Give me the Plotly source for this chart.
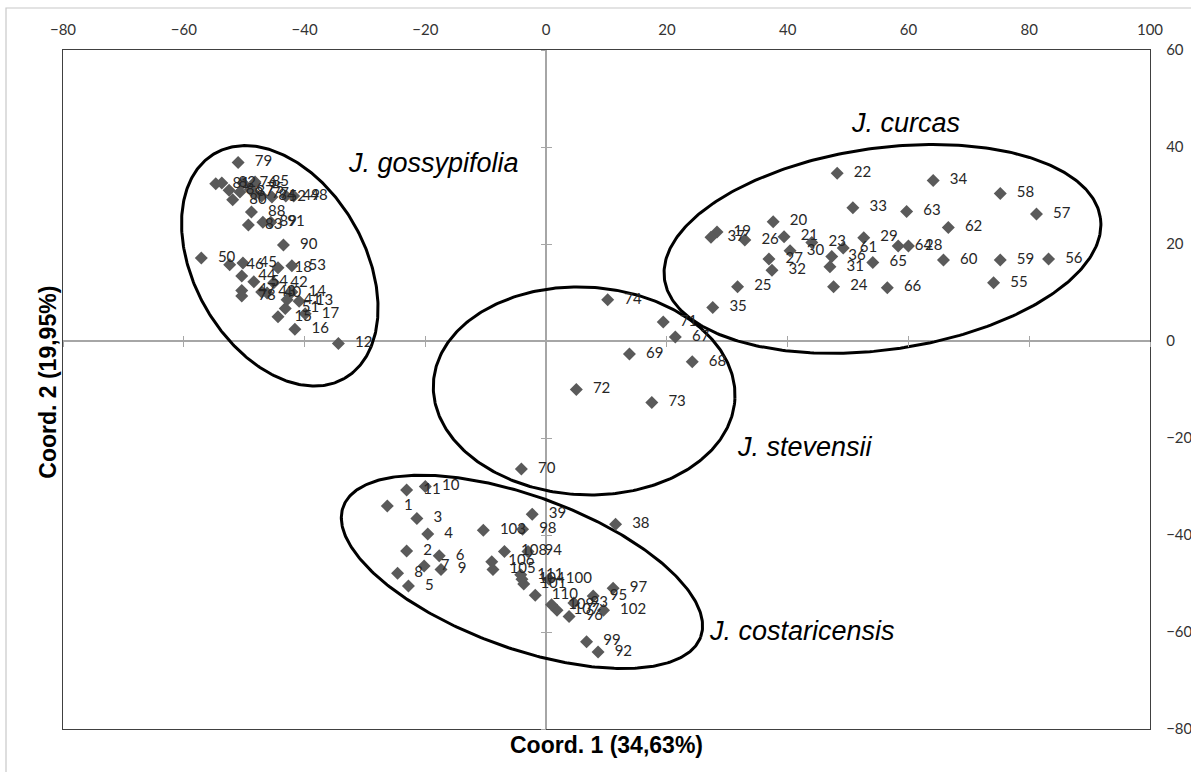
import numpy as np
import plotly.graph_objects as go

# ---------------- data ----------------
gossy_ids = [12, 13, 14, 15, 16, 17, 18, 40, 41, 42, 43, 44, 45, 46, 47, 48, 49, 50, 51, 52, 53, 54,
             75, 76, 77, 78, 79, 80, 81, 82, 83, 84, 85, 86, 87, 88, 89, 90, 91]
gossy_x = [-34.4, -40.9, -42.1, -44.4, -41.6, -39.9, -44.4, -46.2, -42.9, -45.1, -47.1, -50.4, -50.2, -52.4,
           -50.4, -41.8, -43.1, -57.1, -43.2, -45.4, -42.1, -48.4,
           -49.0, -50.2, -48.2, -50.4, -51.0, -51.9, -54.7, -53.7, -49.3, -47.1, -48.2, -52.5, -50.7, -48.8,
           -46.9, -43.5, -45.6]
gossy_y = [-0.5, 8.2, 10.1, 5.0, 2.4, 5.6, 15.1, 9.9, 8.5, 12.0, 10.1, 13.4, 16.1, 15.7, 10.4, 29.9, 29.9,
           17.1, 6.7, 29.7, 15.5, 12.2,
           31.3, 32.6, 30.3, 9.3, 36.8, 29.1, 32.4, 32.6, 23.9, 29.9, 32.8, 31.1, 30.7, 26.6, 24.5, 19.8, 24.5]

curcas_ids = [19, 20, 21, 22, 23, 24, 25, 26, 27, 28, 29, 30, 31, 32, 33, 34, 35, 36, 37,
              55, 56, 57, 58, 59, 60, 61, 62, 63, 64, 65, 66]
curcas_x = [28.3, 37.6, 39.4, 48.2, 44.0, 47.6, 31.7, 32.9, 36.9, 60.0, 52.6, 40.4, 47.0, 37.4, 50.8, 64.1,
            27.6, 47.3, 27.3,
            74.1, 83.2, 81.2, 75.2, 75.2, 65.8, 49.2, 66.6, 59.7, 58.3, 54.1, 56.5]
curcas_y = [22.5, 24.6, 21.5, 34.6, 20.3, 11.2, 11.2, 20.8, 16.9, 19.6, 21.3, 18.6, 15.3, 14.6, 27.5, 33.1,
            6.9, 17.4, 21.4,
            12.0, 16.9, 26.2, 30.4, 16.7, 16.7, 19.2, 23.4, 26.7, 19.6, 16.2, 11.0]

stev_ids = [67, 68, 69, 70, 71, 72, 73, 74]
stev_x = [21.4, 24.2, 13.8, -4.1, 19.4, 5.0, 17.5, 10.2]
stev_y = [0.8, -4.3, -2.7, -26.4, 3.9, -10.0, -12.7, 8.5]

costa_ids = [1, 2, 3, 4, 5, 6, 7, 8, 9, 10, 11, 38, 39, 92, 93, 94, 95, 96, 97, 98, 99, 100,
             101, 102, 103, 104, 105, 106, 107, 108, 109, 110, 111]
costa_x = [-26.3, -23.1, -21.4, -19.6, -22.8, -17.7, -20.2, -24.6, -17.4, -20.0, -23.1, 11.5, -2.3,
           8.6, 4.6, -3.0, 7.8, 3.8, 11.1, -3.9, 6.7, 0.5,
           -3.7, 9.5, -10.4, -4.0, -8.8, -9.0, 1.8, -6.9, 0.9, -1.8, -4.2]
costa_y = [-34.0, -43.3, -36.6, -39.8, -50.5, -44.3, -46.4, -47.9, -47.1, -30.0, -30.7, -37.8, -35.7,
           -64.1, -54.0, -43.4, -52.6, -56.8, -51.0, -38.8, -62.0, -49.1,
           -50.1, -55.5, -39.0, -49.1, -47.1, -45.5, -55.5, -43.4, -54.4, -52.4, -48.2]

# group ellipses: centre (data units), semi-axes (x-units), tilt (deg, screen)
ell_cx = [-44.1, 55.7, 6.3, -4.0]
ell_cy = [15.5, 19.0, -10.3, -47.6]
ell_a = [21.5, 36.45, 25.0, 31.5]
ell_b = [14.1, 16.7, 17.2, 12.6]
ell_tilt = [-60, 8, -3, -20]

species_names = ["J. gossypifolia", "J. curcas", "J. stevensii", "J. costaricensis"]
species_x = [-18.6, 59.5, 42.9, 42.4]
species_y = [36.7, 44.9, -21.9, -59.8]

x_ticks = [-80, -60, -40, -20, 0, 20, 40, 60, 80, 100]
y_ticks = [-80, -60, -40, -20, 0, 20, 40, 60]
x_title = "Coord. 1 (34,63%)"
y_title = "Coord. 2 (19,95%)"

# ---------------- figure ----------------
W, H = 1191, 772
ML, MR, MT, MB = 63, 41, 50, 43
XR = [-80, 100]
YR = [-80, 60]
kx = (W - ML - MR) / (XR[1] - XR[0])
ky = (H - MT - MB) / (YR[1] - YR[0])
ratio = ky / kx

LABEL_FONT = dict(family="Lato, Carlito, Calibri, sans-serif", size=15, color="#262626")
MARK = dict(symbol="diamond", size=10, color="#5a5a5a", line=dict(width=0))

fig = go.Figure()

# ellipses (drawn under markers)
phi = np.linspace(0, 2 * np.pi, 361)
for cx, cy, a, b, t in zip(ell_cx, ell_cy, ell_a, ell_b, ell_tilt):
    th = np.deg2rad(t)
    X = cx + a * np.cos(phi) * np.cos(th) - b * np.sin(phi) * np.sin(th)
    Ys = cy * ratio + a * np.cos(phi) * np.sin(th) + b * np.sin(phi) * np.cos(th)
    fig.add_trace(go.Scatter(x=X, y=Ys / ratio, mode="lines",
                             line=dict(color="black", width=3), hoverinfo="skip",
                             showlegend=False))

pad = "\u2002\u2009"
for ids, xs, ys in [(gossy_ids, gossy_x, gossy_y), (curcas_ids, curcas_x, curcas_y),
                    (stev_ids, stev_x, stev_y), (costa_ids, costa_x, costa_y)]:
    fig.add_trace(go.Scatter(x=xs, y=ys, mode="markers+text", marker=MARK,
                             text=[pad + str(i) for i in ids], textposition="middle right",
                             textfont=LABEL_FONT, showlegend=False, cliponaxis=False))

# helper traces to activate the crossing-tick axes
for xa, ya in [("x2", "y"), ("x3", "y"), ("x", "y2"), ("x", "y3")]:
    fig.add_trace(go.Scatter(x=[None], y=[None], xaxis=xa, yaxis=ya, showlegend=False,
                             hoverinfo="skip"))

for name, sx, sy in zip(species_names, species_x, species_y):
    fig.add_annotation(x=sx, y=sy, text=name, showarrow=False,
                       font=dict(family="Liberation Sans, Arial, sans-serif", size=27,
                                 color="black", style="italic"),
                       xanchor="center", yanchor="middle")

tick_font = dict(family="Lato, Carlito, Calibri, sans-serif", size=15, color="#333333")
zero_pos_y = (0 - YR[0]) / (YR[1] - YR[0])
zero_pos_x = (0 - XR[0]) / (XR[1] - XR[0])
fig.update_layout(
    width=W, height=H,
    margin=dict(l=ML, r=MR, t=MT, b=MB, autoexpand=False),
    paper_bgcolor="white", plot_bgcolor="white",
    showlegend=False,
    xaxis=dict(range=XR, side="top", tickvals=x_ticks, showgrid=False, automargin=False,
               zeroline=True, zerolinecolor="#a6a6a6", zerolinewidth=1.5,
               showline=True, mirror=True, linecolor="#404040", linewidth=1.3,
               ticks="", tickfont=tick_font, ticklabelstandoff=8),
    yaxis=dict(range=YR, side="right", tickvals=y_ticks, showgrid=False, automargin=False,
               zeroline=True, zerolinecolor="#a6a6a6", zerolinewidth=1.5,
               showline=True, mirror=True, linecolor="#404040", linewidth=1.3,
               ticks="", tickfont=tick_font, ticklabelstandoff=12),
    xaxis2=dict(range=XR, overlaying="x", anchor="free", position=zero_pos_y, automargin=False,
                tickvals=x_ticks, ticks="outside", ticklen=5, tickcolor="#a6a6a6", tickwidth=1.3,
                showticklabels=False, showgrid=False, zeroline=False, showline=False),
    xaxis3=dict(range=XR, overlaying="x", anchor="free", position=zero_pos_y, automargin=False,
                tickvals=x_ticks, ticks="inside", ticklen=5, tickcolor="#a6a6a6", tickwidth=1.3,
                showticklabels=False, showgrid=False, zeroline=False, showline=False),
    yaxis2=dict(range=YR, overlaying="y", anchor="free", position=zero_pos_x, automargin=False,
                side="left", tickvals=y_ticks, ticks="outside", ticklen=5, tickcolor="#a6a6a6",
                tickwidth=1.3, showticklabels=False, showgrid=False, zeroline=False, showline=False),
    yaxis3=dict(range=YR, overlaying="y", anchor="free", position=zero_pos_x, automargin=False,
                side="left", tickvals=y_ticks, ticks="inside", ticklen=5, tickcolor="#a6a6a6",
                tickwidth=1.3, showticklabels=False, showgrid=False, zeroline=False, showline=False),
)

# axis titles
title_font = dict(family="Liberation Sans, Arial, sans-serif", size=23, color="black", weight="bold")
fig.add_annotation(xref="paper", yref="paper", x=0.5, y=-16 / (H - MT - MB), text=x_title,
                   showarrow=False, font=title_font, xanchor="center", yanchor="middle")
fig.add_annotation(xref="paper", yref="paper", x=-(ML - 48) / (W - ML - MR), y=0.51, text=y_title,
                   showarrow=False, font=title_font, textangle=-90,
                   xanchor="center", yanchor="middle")

# outer chart frame
pw, ph = W - ML - MR, H - MT - MB
fig.add_shape(type="rect", xref="paper", yref="paper",
              x0=(6 - ML) / pw, x1=(W + 20 - ML) / pw, y0=-(MB + 20) / ph, y1=1 + (MT - 8) / ph,
              line=dict(color="#c8c8c8", width=1.2), fillcolor="rgba(0,0,0,0)", layer="below")

fig.write_html("out.html")
